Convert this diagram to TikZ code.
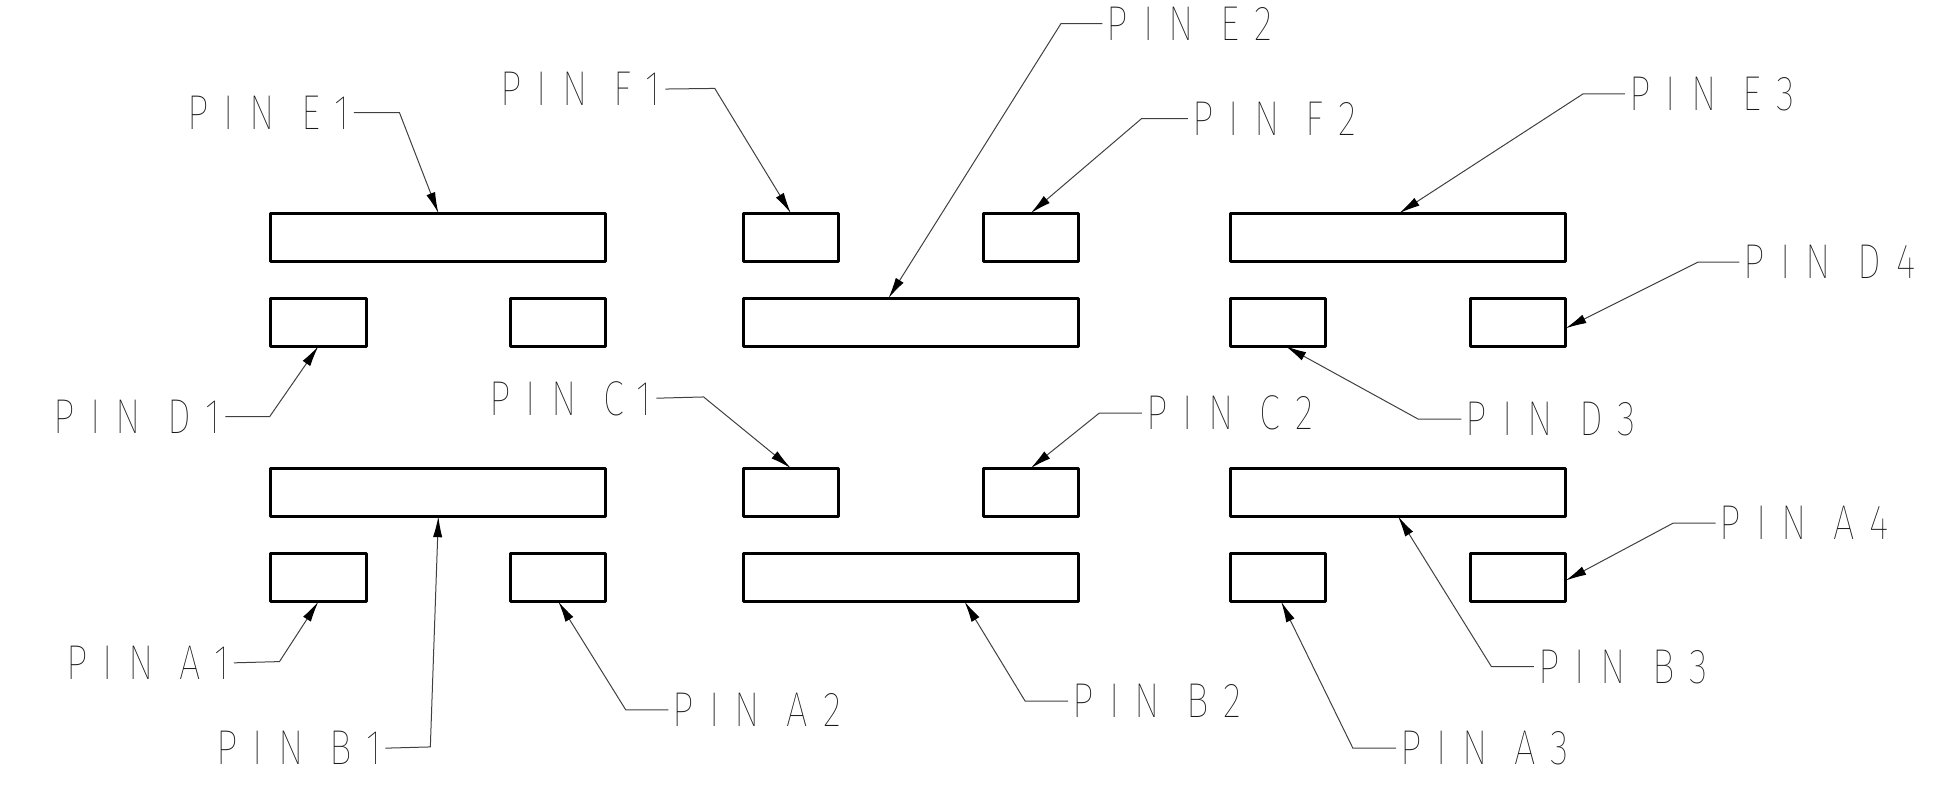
\documentclass[tikz,border=0pt]{standalone}
\usepackage{fontspec}
\usetikzlibrary{arrows.meta,calc}
\newfontfamily\pinfont{Fira Sans Thin}[FakeStretch=0.78,LetterSpace=31]
\tikzset{
  x=0.6183pt,y=-0.6183pt,
  pinbox/.style={draw=black,line width=1.5pt,inner sep=0,outer sep=0,line join=round,minimum height=24pt},
  longpin/.style={pinbox,minimum width=167.6pt},
  shortpin/.style={pinbox,minimum width=47.6pt},
  lbl/.style={font=\pinfont\fontsize{24.5pt}{24.5pt}\selectfont,text=black!90,inner sep=0,outer sep=2.2pt,text depth=0pt},
  lead/.style={draw=black!75,line width=0.5pt,-{Latex[length=10.5pt,width=4.6pt,black]}},
}
\begin{document}
\begin{tikzpicture}
\useasboundingbox (0,0) rectangle (1568,636.4);
% row 1
\node[longpin]  (rE1) at (354.5,191.8) {};
\node[shortpin] (rF1) at (639.5,191.8) {};
\node[shortpin] (rF2) at (833.5,191.8) {};
\node[longpin]  (rE3) at (1130.5,191.8) {};
% row 2
\node[shortpin] (rD1) at (257.5,260.5) {};
\node[shortpin] (rD2) at (451.5,260.5) {};
\node[longpin]  (rE2) at (736.5,260.5) {};
\node[shortpin] (rD3) at (1033.5,260.5) {};
\node[shortpin] (rD4) at (1227.5,260.5) {};
% row 3
\node[longpin]  (rB1) at (354.5,398) {};
\node[shortpin] (rC1) at (639.5,398) {};
\node[shortpin] (rC2) at (833.5,398) {};
\node[longpin]  (rB3) at (1130.5,398) {};
% row 4
\node[shortpin] (rA1) at (257.5,467) {};
\node[shortpin] (rA2) at (451.5,467) {};
\node[longpin]  (rB2) at (736.5,467) {};
\node[shortpin] (rA3) at (1033.5,467) {};
\node[shortpin] (rA4) at (1227.5,467) {};
% labels
\node[lbl] (lE1) at (217,91)    {PIN E1};
\node[lbl] (lF1) at (469.5,72)  {PIN F1};
\node[lbl] (lE2) at (962,19)    {PIN E2};
\node[lbl] (lF2) at (1030.5,96) {PIN F2};
\node[lbl] (lE3) at (1384.5,76) {PIN E3};
\node[lbl] (lD4) at (1479.5,212){PIN D4};
\node[lbl] (lD1) at (111,337)   {PIN D1};
\node[lbl] (lD3) at (1254,339)  {PIN D3};
\node[lbl] (lC1) at (461.5,322) {PIN C1};
\node[lbl] (lC2) at (994.5,334) {PIN C2};
\node[lbl] (lA4) at (1459,423)  {PIN A4};
\node[lbl] (lB3) at (1312.5,539){PIN B3};
\node[lbl] (lA3) at (1200.5,605){PIN A3};
\node[lbl] (lB2) at (935.5,567) {PIN B2};
\node[lbl] (lA2) at (612,574)   {PIN A2};
\node[lbl] (lA1) at (119.5,536) {PIN A1};
\node[lbl] (lB1) at (241.5,605) {PIN B1};
% connectors
\draw[lead] (lE1.east) -- (323,91)   -- (rE1.north);
\draw[lead] (lF1.east) -- (578,71.5) -- (rF1.north);
\draw[lead] (lE2.west) -- (858,19)   -- ($(rE2.north)+(-18,0)$);
\draw[lead] (lF2.west) -- (923,96)   -- (rF2.north);
\draw[lead] (lE3.west) -- (1280,76)  -- ($(rE3.north)+(1,0)$);
\draw[lead] (lD4.west) -- (1373,212) -- ($(rD4.east)+(0,5)$);
\draw[lead] (lD1.east) -- (218,337)  -- (rD1.south);
\draw[lead] (lD3.west) -- (1147,339) -- ($(rD3.south)+(6,0)$);
\draw[lead] (lC1.east) -- (569,321)  -- (rC1.north);
\draw[lead] (lC2.west) -- (889,334)  -- (rC2.north);
\draw[lead] (lA4.west) -- (1353,423) -- ($(rA4.east)+(0,2.5)$);
\draw[lead] (lB3.west) -- (1206,539) -- (rB3.south);
\draw[lead] (lA3.west) -- (1094,605) -- ($(rA3.south)+(2.5,0)$);
\draw[lead] (lB2.west) -- (829,567)  -- ($(rB2.south)+(43.5,0)$);
\draw[lead] (lA2.west) -- (506,574)  -- (rA2.south);
\draw[lead] (lA1.east) -- (226,535)  -- (rA1.south);
\draw[lead] (lB1.east) -- (348,604)  -- (rB1.south);
\end{tikzpicture}
\end{document}
